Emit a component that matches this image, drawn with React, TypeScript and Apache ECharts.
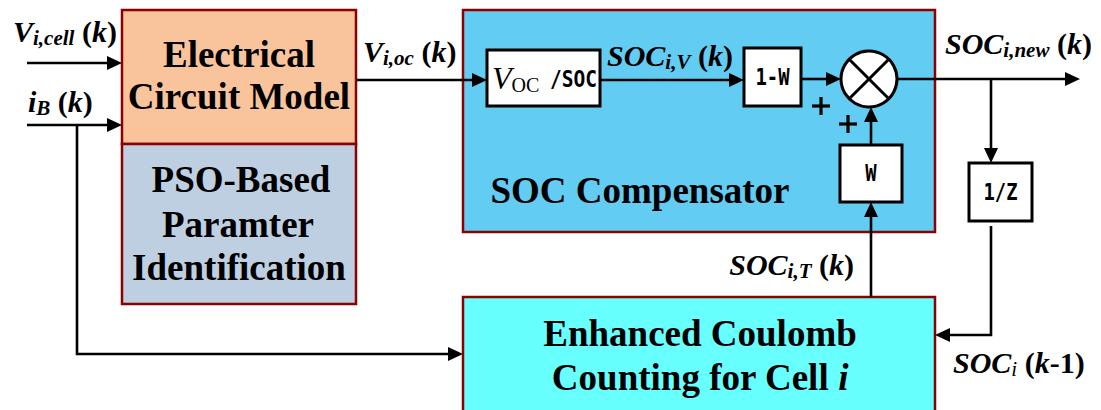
import React, { useEffect, useRef } from "react";
import * as echarts from "echarts";

// ---- texts of the diagram ----
const ecmLines = ["Electrical", "Circuit Model"];
const psoLines = ["PSO-Based", "Paramter", "Identification"];
const compensatorTitle = ["SOC Compensator"];
const coulombLines = ["Enhanced Coulomb", "Counting for Cell "];
const coulombItalic = ["i"];
const gainLabels = ["1-W", "W", "1/Z"];
const vocParts = ["V", "OC", "/SOC"];
const plusSigns = ["+", "+"];

// signal labels: [style key, text]
const lblVcell = [["M", "V"], ["S", "i,cell"], ["P", " ("], ["M", "k"], ["P", ")"]];
const lblIb = [["M", "i"], ["S", "B"], ["P", " ("], ["M", "k"], ["P", ")"]];
const lblVoc = [["M", "V"], ["S", "i,oc"], ["P", " ("], ["M", "k"], ["P", ")"]];
const lblSocV = [["M", "SOC"], ["S", "i,V"], ["P", " ("], ["M", "k"], ["P", ")"]];
const lblSocNew = [["M", "SOC"], ["S", "i,new"], ["P", " ("], ["M", "k"], ["P", ")"]];
const lblSocT = [["M", "SOC"], ["S", "i,T"], ["P", " ("], ["M", "k"], ["P", ")"]];
const lblSocPrev = [["M", "SOC"], ["s", "i"], ["P", " ("], ["M", "k"], ["P", "-1)"]];

const SERIF = "Liberation Serif";
const MONO = "DejaVu Sans Mono";
const DARKRED = "#8B0000";

const richStyles = {
  M: { fontFamily: SERIF, fontSize: 30, fontStyle: "italic", fontWeight: "bold", lineHeight: 34 },
  P: { fontFamily: SERIF, fontSize: 30, fontStyle: "normal", fontWeight: "bold", lineHeight: 34 },
  S: { fontFamily: SERIF, fontSize: 21, fontStyle: "italic", fontWeight: "bold", lineHeight: 20, verticalAlign: "bottom" },
  s: { fontFamily: SERIF, fontSize: 21, fontStyle: "italic", fontWeight: "normal", lineHeight: 20, verticalAlign: "bottom" },
};

function rect(x: number, y: number, w: number, h: number, fill: string, stroke: string, lw: number) {
  return { type: "rect", shape: { x, y, width: w, height: h }, style: { fill, stroke, lineWidth: lw } };
}

function arrow(pts: number[][], lw = 2.6, hl = 15, hw = 7) {
  const n = pts.length;
  const [x1, y1] = pts[n - 2];
  const [x2, y2] = pts[n - 1];
  const L = Math.hypot(x2 - x1, y2 - y1);
  const ux = (x2 - x1) / L;
  const uy = (y2 - y1) / L;
  const bx = x2 - ux * hl;
  const by = y2 - uy * hl;
  const linePts = pts.slice(0, n - 1).concat([[x2 - ux * (hl - 2), y2 - uy * (hl - 2)]]);
  return [
    { type: "polyline", shape: { points: linePts }, style: { stroke: "#000", lineWidth: lw, lineJoin: "miter" } },
    {
      type: "polygon",
      shape: { points: [[x2, y2], [bx - uy * hw, by + ux * hw], [bx + uy * hw, by - ux * hw]] },
      style: { fill: "#000" },
    },
  ];
}

function line(pts: number[][], lw = 2.6) {
  return { type: "polyline", shape: { points: pts }, style: { stroke: "#000", lineWidth: lw, lineJoin: "miter" } };
}

function label(x: number, y: number, parts: string[][], align = "left") {
  return {
    type: "text",
    x,
    y,
    style: {
      text: parts.map(([k, t]) => `{${k}|${t}}`).join(""),
      rich: richStyles,
      fill: "#000",
      align,
      verticalAlign: "middle",
    },
  };
}

function bigText(x: number, y: number, text: string) {
  return {
    type: "text",
    x,
    y,
    style: {
      text,
      fill: "#000",
      fontFamily: SERIF,
      fontSize: 37,
      fontWeight: "bold",
      align: "center",
      verticalAlign: "middle",
    },
  };
}

function monoText(x: number, y: number, text: string, align = "center", sx = 0.82) {
  return {
    type: "text",
    x,
    y,
    scaleX: sx,
    style: {
      text,
      fill: "#000",
      fontFamily: MONO,
      fontSize: 23,
      fontWeight: "bold",
      align,
      verticalAlign: "middle",
    },
  };
}

function buildElements() {
  const els: any[] = [];
  // main blocks
  els.push(rect(122, 10, 234, 134, "#F9C49B", DARKRED, 2.5));
  els.push(rect(122, 144, 234, 160, "#BFCFE2", DARKRED, 2.5));
  els.push(rect(463, 10, 472, 222, "#63CCF3", DARKRED, 2.5));
  els.push(rect(463, 297, 472, 130, "#68FFFF", DARKRED, 2.5));
  // small boxes
  els.push(rect(487, 50, 113, 56, "#FFFFFF", "#000", 3));
  els.push(rect(744, 48, 57, 58, "#FFFFFF", "#000", 3));
  els.push(rect(840, 145, 62, 57, "#FFFFFF", "#000", 3));
  els.push(rect(969, 163, 63, 58, "#FFFFFF", "#000", 3));
  // summing junction
  const cx = 869, cy = 79, r = 28;
  els.push({ type: "circle", shape: { cx, cy, r }, style: { fill: "#FFFFFF", stroke: "#000", lineWidth: 3 } });
  const d = r * Math.SQRT1_2;
  els.push(line([[cx - d, cy - d], [cx + d, cy + d]], 3));
  els.push(line([[cx - d, cy + d], [cx + d, cy - d]], 3));

  // arrows and wires
  els.push(...arrow([[27, 63], [122, 63]]));
  els.push(...arrow([[27, 125], [122, 125]]));
  els.push(...arrow([[77, 125], [77, 354], [463, 354]]));
  els.push(...arrow([[356, 80], [487, 80]]));
  els.push(...arrow([[600, 80], [744, 80]]));
  els.push(...arrow([[801, 79], [cx - r, 79]]));
  els.push(...arrow([[871, 297], [871, 202]]));
  els.push(...arrow([[871, 145], [871, cy + r]]));
  els.push(...arrow([[cx + r, 79], [1080, 79]]));
  els.push(...arrow([[991, 79], [991, 163]]));
  els.push(...arrow([[991, 226], [991, 335], [935, 335]]));

  // plus signs (drawn as strokes)
  const plusPos = [[821, 106], [848, 124]];
  plusSigns.forEach((_, i) => {
    const [px, py] = plusPos[i];
    els.push(line([[px - 9, py], [px + 9, py]], 3.2));
    els.push(line([[px, py - 9], [px, py + 9]], 3.2));
  });

  // block texts
  els.push(bigText(239, 54, ecmLines[0]));
  els.push(bigText(239, 96, ecmLines[1]));
  els.push(bigText(241, 179, psoLines[0]));
  els.push(bigText(238, 224, psoLines[1]));
  els.push(bigText(239, 267, psoLines[2]));
  els.push(bigText(640, 190, compensatorTitle[0]));
  els.push(bigText(700, 333, coulombLines[0]));
  els.push({
    type: "text",
    x: 700,
    y: 377,
    style: {
      text: `{n|${coulombLines[1]}}{i|${coulombItalic[0]}}`,
      rich: {
        n: { fontFamily: SERIF, fontSize: 37, fontWeight: "bold", fontStyle: "normal" },
        i: { fontFamily: SERIF, fontSize: 37, fontWeight: "bold", fontStyle: "italic" },
      },
      fill: "#000",
      align: "center",
      verticalAlign: "middle",
    },
  });

  // V_OC / SOC
  els.push({
    type: "text",
    x: 492,
    y: 78,
    style: {
      text: `{v|${vocParts[0]}}{o|${vocParts[1]}}`,
      rich: {
        v: { fontFamily: SERIF, fontSize: 32, fontStyle: "italic", lineHeight: 34 },
        o: { fontFamily: SERIF, fontSize: 20, lineHeight: 22, verticalAlign: "bottom" },
      },
      fill: "#000",
      align: "left",
      verticalAlign: "middle",
    },
  });
  els.push(monoText(597, 79, vocParts[2], "right", 0.85));

  // gain blocks
  els.push(monoText(772.5, 77, gainLabels[0]));
  els.push(monoText(871, 173, gainLabels[1]));
  els.push(monoText(1000.5, 192, gainLabels[2]));

  // signal labels
  els.push(label(13, 31, lblVcell));
  els.push(label(28, 101, lblIb));
  els.push(label(363, 51, lblVoc));
  els.push(label(607, 55, lblSocV));
  els.push(label(945, 43, lblSocNew));
  els.push(label(854, 264, lblSocT, "right"));
  els.push(label(953, 362, lblSocPrev));
  return els;
}

export default function App() {
  const ref = useRef<HTMLDivElement>(null);
  useEffect(() => {
    document.body.style.margin = "0";
    const chart = echarts.init(ref.current!, null, { renderer: "svg" });
    chart.setOption({
      animation: false,
      backgroundColor: "#FFFFFF",
      graphic: { elements: buildElements() },
    });
    return () => chart.dispose();
  }, []);
  return <div ref={ref} style={{ width: 1101, height: 410 }} />;
}
